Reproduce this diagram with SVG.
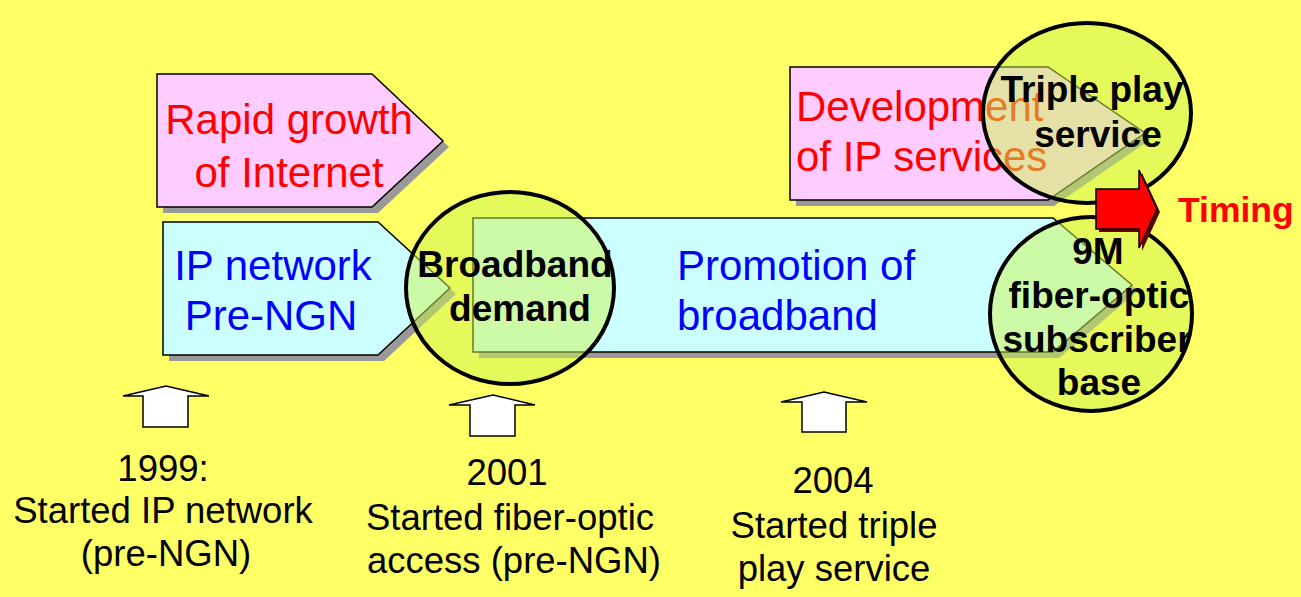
<svg xmlns="http://www.w3.org/2000/svg" width="1301" height="597" viewBox="0 0 1301 597">
<style>
.shadow{fill:#999999;stroke:none}
.pink{fill:#FFCCFF;stroke:#000;stroke-width:1.5}
.cyan{fill:#CCFFFF;stroke:#000;stroke-width:1.5}
.circ{fill:#CCF54E;fill-opacity:0.5;stroke:#000;stroke-width:4}
.up{fill:#FFFFFF;stroke:#000;stroke-width:1.5;stroke-linejoin:miter}
.reg{font-family:"Liberation Sans",Arial,sans-serif;font-size:42px}
.bold{font-family:"Liberation Sans",Arial,sans-serif;font-size:37px;font-weight:bold;fill:#000;text-anchor:middle}
.btm{font-family:"Liberation Sans",Arial,sans-serif;font-size:36.5px;fill:#000;text-anchor:middle}
</style>
<rect x="0" y="0" width="1301" height="597" fill="#FFFF66"/>

<g id="rapid-growth">
<polygon class="shadow" points="163,80 378,80 449,147 378,213 163,213"/>
<polygon class="pink" points="157,74 372,74 443,141 372,207 157,207"/>
<text class="reg" fill="#FF0000" text-anchor="middle"><tspan x="289" y="134">Rapid growth</tspan><tspan x="289" y="187">of Internet</tspan></text>
</g>

<g id="ip-network">
<polygon class="shadow" points="169,228 384,228 456,294 384,361 169,361"/>
<polygon class="cyan" points="163,222 378,222 450,288 378,355 163,355"/>
<text class="reg" fill="#0000FF" text-anchor="middle"><tspan x="273" y="280">IP network</tspan><tspan x="271" y="330">Pre-NGN</tspan></text>
</g>

<g id="promotion">
<polygon class="shadow" points="479,224 1059,224 1138,291 1059,358 479,358"/>
<polygon class="cyan" points="473,218 1053,218 1132,285 1053,352 473,352"/>
<text class="reg" fill="#0000FF"><tspan x="677" y="280">Promotion of</tspan><tspan x="677" y="330">broadband</tspan></text>
</g>

<g id="ip-services">
<polygon class="shadow" points="796,73 1054,73 1151,139 1054,206 796,206"/>
<polygon class="pink" points="790,67 1048,67 1145,133 1048,200 790,200"/>
<text class="reg" fill="#FF0000"><tspan x="796" y="121">Development</tspan><tspan x="796" y="171">of IP services</tspan></text>
</g>

<g id="broadband-demand">
<ellipse class="circ" cx="510" cy="288" rx="104" ry="96"/>
<text class="bold"><tspan x="515" y="277">Broadband</tspan><tspan x="520" y="321">demand</tspan></text>
</g>

<g id="triple-play">
<ellipse class="circ" cx="1087" cy="113" rx="104" ry="90"/>
<text class="bold"><tspan x="1092" y="102">Triple play</tspan><tspan x="1098" y="147">service</tspan></text>
</g>

<g id="fiber-base">
<ellipse class="circ" cx="1091" cy="314" rx="101" ry="97"/>
<text class="bold"><tspan x="1098" y="264">9M</tspan><tspan x="1099" y="308">fiber-optic</tspan><tspan x="1097" y="352">subscriber</tspan><tspan x="1099" y="395">base</tspan></text>
</g>

<g id="timing">
<polygon points="1099,192 1142,192 1142,173 1160,212 1142,251 1142,232 1099,232" fill="#660000"/>
<polygon points="1096,189 1139,189 1139,170 1157,209 1139,248 1139,229 1096,229" fill="#FF0000" stroke="#000" stroke-width="1.5"/>
<text x="1178" y="222" font-family="Liberation Sans,Arial,sans-serif" font-size="35.5px" font-weight="bold" fill="#FF0000">Timing</text>
</g>

<g id="connectors">
<polygon class="up" points="123,396 166,386 209,396 188,396 188,427 143,427 143,396"/>
<polygon class="up" points="449,405 493,395 535,405 515,405 515,436 470,436 470,405"/>
<polygon class="up" points="781,402 824,392 867,402 846,402 846,432 802,432 802,402"/>
</g>

<g id="milestone-1999">
<text class="btm"><tspan x="163" y="481">1999:</tspan><tspan x="163" y="523">Started IP network</tspan><tspan x="166" y="566">(pre-NGN)</tspan></text>
</g>
<g id="milestone-2001">
<text class="btm"><tspan x="507" y="485">2001</tspan><tspan x="510" y="530">Started fiber-optic</tspan><tspan x="514" y="573">access (pre-NGN)</tspan></text>
</g>
<g id="milestone-2004">
<text class="btm"><tspan x="833" y="493">2004</tspan><tspan x="834" y="538">Started triple</tspan><tspan x="834" y="581">play service</tspan></text>
</g>
</svg>
